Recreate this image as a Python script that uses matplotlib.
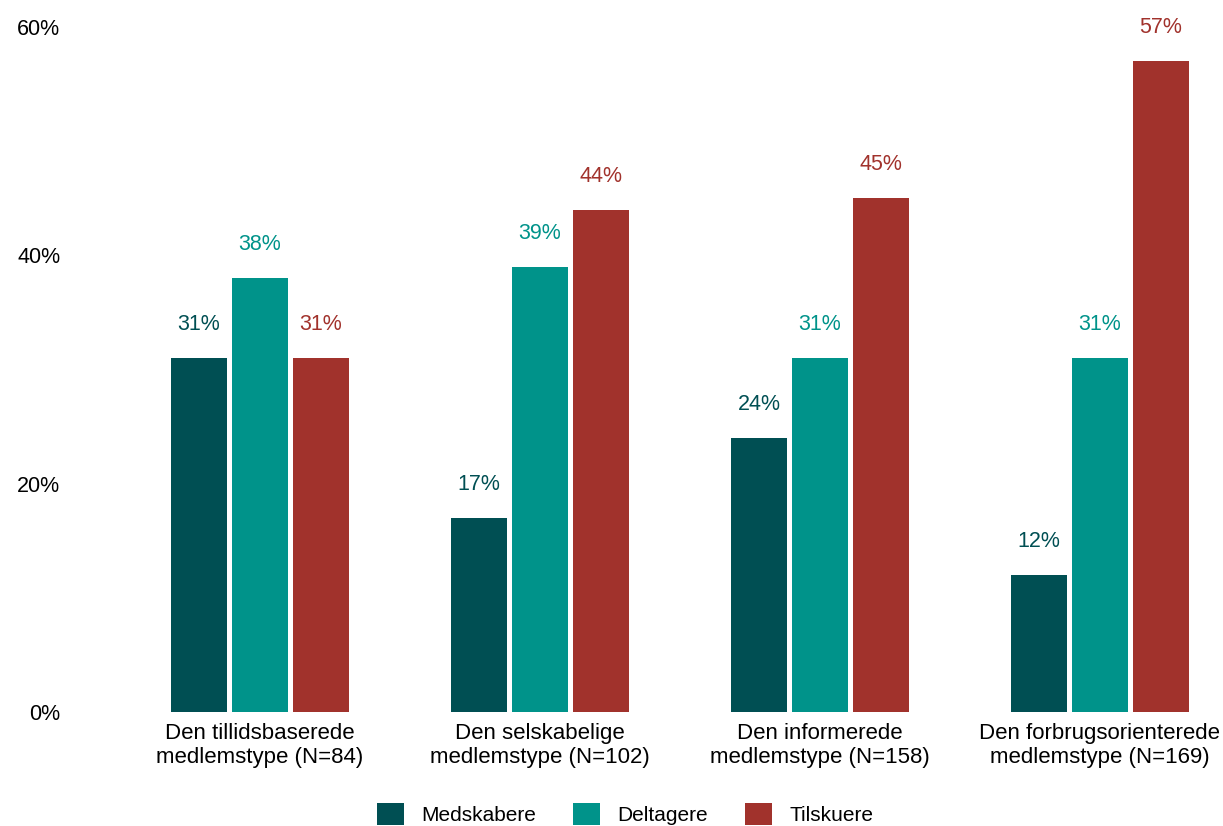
import numpy as np
import matplotlib
matplotlib.use("Agg")
import matplotlib.pyplot as plt
from matplotlib.patches import Patch

plt.rcParams['font.family'] = ['Liberation Sans', 'DejaVu Sans']

categories = [
    "Den tillidsbaserede\nmedlemstype (N=84)",
    "Den selskabelige\nmedlemstype (N=102)",
    "Den informerede\nmedlemstype (N=158)",
    "Den forbrugsorienterede\nmedlemstype (N=169)",
]
series_names = ["Medskabere", "Deltagere", "Tilskuere"]
medskabere = [31, 17, 24, 12]
deltagere = [38, 39, 31, 31]
tilskuere = [31, 44, 45, 57]
yticks = [0, 20, 40, 60]

colors = ["#004f53", "#00938a", "#a1322c"]

fig = plt.figure(figsize=(12.23, 8.26), dpi=100)
ax = fig.add_axes([120 / 1223, 114 / 826, 1 - 120 / 1223, (712 - 27) / 826])

x = np.arange(len(categories))
width = 0.2
pitch = 0.218

for i, (vals, name, col) in enumerate(zip([medskabere, deltagere, tilskuere], series_names, colors)):
    pos = x + (i - 1) * pitch
    ax.bar(pos, vals, width=width, color=col, label=name)
    for px, v in zip(pos, vals):
        ax.annotate(f"{v}%", (px, v), xytext=(0, 24), textcoords="offset points",
                    ha="center", va="center", color=col, fontsize=15.5,
                    annotation_clip=False)

ax.set_xlim(-0.5, (1223 - 260) / 280)
ax.set_ylim(0, 60)
ax.set_yticks(yticks)
ax.set_yticklabels([f"{t}%" for t in yticks], fontsize=15.5)
ax.set_xticks(x)
ax.set_xticklabels(categories, fontsize=16, linespacing=1.15)
ax.tick_params(axis="y", length=0, pad=43)
ax.tick_params(axis="x", length=0, pad=8)
for s in ax.spines.values():
    s.set_visible(False)

handles = [Patch(facecolor=c, label=n) for c, n in zip(colors, series_names)]
fig.legend(handles=handles, loc="center", bbox_to_anchor=(625 / 1223, 12 / 826),
           ncol=3, frameon=False, fontsize=15, handlelength=1.3, handleheight=1.3,
           handletextpad=0.85, columnspacing=1.75, borderpad=0)

fig.savefig("out.png", dpi=100)
